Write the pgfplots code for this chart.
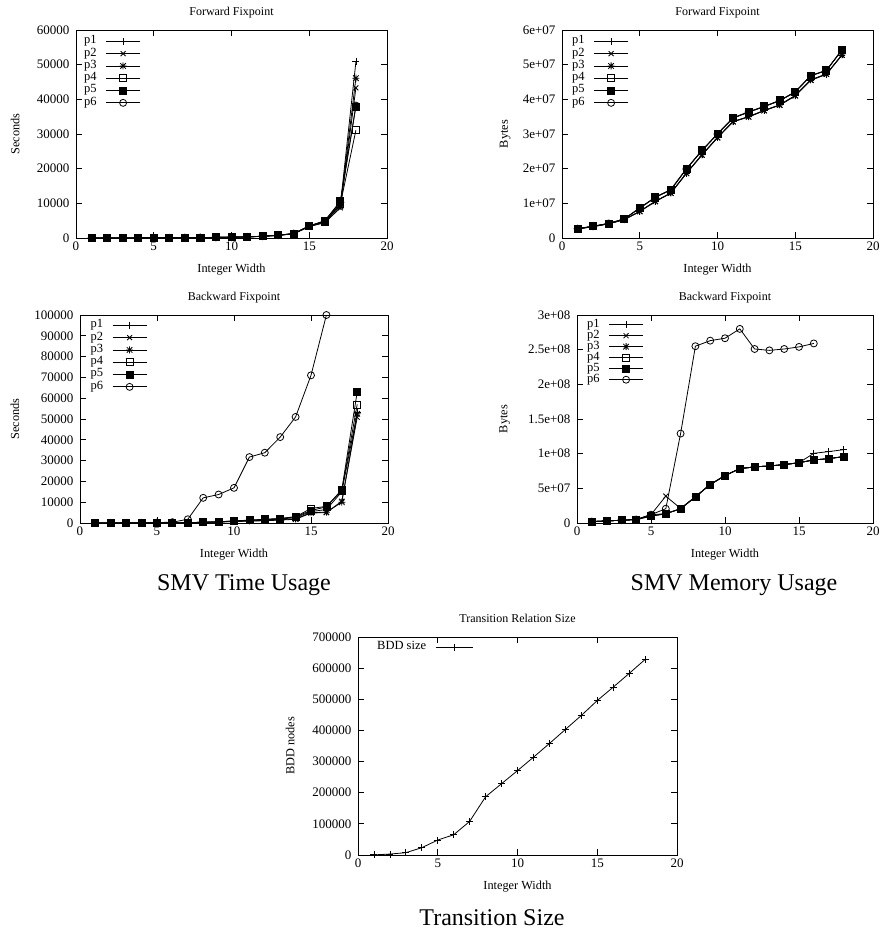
\documentclass[border=0pt]{standalone}
\usepackage{fontspec}
\setmainfont{Liberation Serif}
\usepackage{pgfplots}
\pgfplotsset{compat=1.18}

% gnuplot point type 3: + and x together
\pgfdeclareplotmark{gpstar}{%
  \pgfpathmoveto{\pgfqpoint{-\pgfplotmarksize}{0pt}}\pgfpathlineto{\pgfqpoint{\pgfplotmarksize}{0pt}}%
  \pgfpathmoveto{\pgfqpoint{0pt}{-\pgfplotmarksize}}\pgfpathlineto{\pgfqpoint{0pt}{\pgfplotmarksize}}%
  \pgfpathmoveto{\pgfqpoint{-.8\pgfplotmarksize}{-.8\pgfplotmarksize}}\pgfpathlineto{\pgfqpoint{.8\pgfplotmarksize}{.8\pgfplotmarksize}}%
  \pgfpathmoveto{\pgfqpoint{-.8\pgfplotmarksize}{.8\pgfplotmarksize}}\pgfpathlineto{\pgfqpoint{.8\pgfplotmarksize}{-.8\pgfplotmarksize}}%
  \pgfusepathqstroke}

\pgfplotsset{
  gp/.style={
    scale only axis, anchor=south west,
    xmin=0, xmax=20, xtick={0,5,10,15,20}, ymin=0,
    tick align=inside, tick pos=both, major tick length=6pt,
    axis line style={line width=0.8pt}, every tick/.style={black, line width=0.8pt},
    tick label style={font=\fontsize{13}{15}\selectfont},
    yticklabel style={xshift=-3pt},
    /pgf/number format/assume math mode=true, /pgf/number format/fixed,
    /pgf/number format/1000 sep={}, scaled y ticks=false,
    title style={font=\fontsize{12}{14}\selectfont, anchor=center},
    every axis x label/.style={at={(axis description cs:0.5,-0.154)}, anchor=center, font=\fontsize{12.3}{14}\selectfont},
    xlabel={Integer Width},
    legend plot pos=right, legend cell align=left,
    legend style={at={(0,1)}, anchor=north west, draw=none, fill=none,
      inner sep=0pt, column sep=9pt, row sep=0pt,
      font=\fontsize{12.5}{14}\selectfont,
      nodes={inner sep=0pt, text height=8.5pt, text depth=3.8pt}},
    legend image code/.code={\draw[mark repeat=2,mark phase=2] plot coordinates {(0pt,0pt) (17pt,0pt) (34pt,0pt)};},
    every axis plot/.append style={black, solid, line width=0.8pt, mark size=3.5pt},
  },
  ttl/.style={title style={at={(axis description cs:0.5,#1)}}},
  ylab/.style={every axis y label/.style={at={(axis description cs:#1,0.5)}, rotate=90, anchor=center, font=\fontsize{12.3}{14}\selectfont}},
}

\begin{document}
\begin{tikzpicture}
\useasboundingbox (0pt,0pt) rectangle (880pt,-930pt);

% ---------- Forward fixpoint, time
\begin{axis}[gp, at={(76pt,-238pt)}, width=311pt, height=208pt,
  ymax=60000, ytick={0,10000,...,60000},
  title={Forward Fixpoint}, ttl=1.055, ylabel={Seconds}, ylab=-0.196,
  legend style={xshift=8pt, yshift=-5pt}]
\addplot[mark=+] coordinates {(1,5) (2,10) (3,20) (4,30) (5,50) (6,70) (7,100) (8,140) (9,180) (10,230) (11,330) (12,500) (13,780) (14,1250) (15,3400) (16,4800) (17,9500) (18,50800)};
\addplot[mark=x] coordinates {(1,5) (2,10) (3,20) (4,30) (5,50) (6,70) (7,100) (8,130) (9,170) (10,220) (11,310) (12,480) (13,760) (14,1200) (15,3300) (16,4400) (17,8700) (18,43300)};
\addplot[mark=gpstar] coordinates {(1,5) (2,10) (3,20) (4,30) (5,50) (6,70) (7,100) (8,135) (9,175) (10,225) (11,320) (12,490) (13,770) (14,1230) (15,3350) (16,4600) (17,9200) (18,46100)};
\addplot[mark=square] coordinates {(1,5) (2,10) (3,20) (4,30) (5,50) (6,70) (7,100) (8,140) (9,180) (10,230) (11,330) (12,500) (13,790) (14,1260) (15,3450) (16,4700) (17,9800) (18,31100)};
\addplot[mark=square*] coordinates {(1,5) (2,10) (3,20) (4,30) (5,50) (6,70) (7,100) (8,145) (9,190) (10,240) (11,340) (12,520) (13,800) (14,1300) (15,3500) (16,5000) (17,10600) (18,37900)};
\addplot[mark=o] coordinates {(1,5) (2,10) (3,20) (4,30) (5,50) (6,70) (7,100) (8,145) (9,185) (10,235) (11,335) (12,510) (13,800) (14,1280) (15,3480) (16,4900) (17,10300) (18,38200)};
\legend{p1,p2,p3,p4,p5,p6}
\end{axis}

% ---------- Forward fixpoint, memory
\begin{axis}[gp, at={(562pt,-238pt)}, width=311pt, height=208pt,
  ymax=6e7, ytick={0,1e7,2e7,3e7,4e7,5e7,6e7},
  yticklabels={0,1e+07,2e+07,3e+07,4e+07,5e+07,6e+07},
  title={Forward Fixpoint}, ttl=1.055, ylabel={Bytes}, ylab=-0.183,
  legend style={xshift=10pt, yshift=-5pt}]
\addplot[mark=+] coordinates {(1,2.6e6) (2,3.3e6) (3,4.1e6) (4,5.3e6) (5,7.7e6) (6,10.6e6) (7,13.0e6) (8,18.7e6) (9,24.0e6) (10,29.0e6) (11,33.6e6) (12,35.0e6) (13,36.8e6) (14,38.4e6) (15,41.1e6) (16,45.6e6) (17,47.3e6) (18,52.8e6)};
\addplot[mark=x] coordinates {(1,2.6e6) (2,3.3e6) (3,4.1e6) (4,5.3e6) (5,7.6e6) (6,10.5e6) (7,12.9e6) (8,18.6e6) (9,23.9e6) (10,28.9e6) (11,33.5e6) (12,34.9e6) (13,36.7e6) (14,38.3e6) (15,41.0e6) (16,45.5e6) (17,47.2e6) (18,52.7e6)};
\addplot[mark=gpstar] coordinates {(1,2.6e6) (2,3.3e6) (3,4.1e6) (4,5.3e6) (5,7.7e6) (6,10.6e6) (7,13.0e6) (8,18.7e6) (9,24.0e6) (10,29.0e6) (11,33.6e6) (12,35.0e6) (13,36.8e6) (14,38.4e6) (15,41.1e6) (16,45.6e6) (17,47.3e6) (18,52.8e6)};
\addplot[mark=square] coordinates {(1,2.7e6) (2,3.4e6) (3,4.2e6) (4,5.5e6) (5,8.6e6) (6,11.7e6) (7,13.9e6) (8,19.9e6) (9,25.2e6) (10,30.0e6) (11,34.6e6) (12,36.3e6) (13,37.9e6) (14,39.6e6) (15,42.1e6) (16,46.8e6) (17,48.3e6) (18,54.2e6)};
\addplot[mark=square*] coordinates {(1,2.7e6) (2,3.4e6) (3,4.2e6) (4,5.5e6) (5,8.7e6) (6,11.8e6) (7,14.0e6) (8,20.0e6) (9,25.3e6) (10,30.1e6) (11,34.7e6) (12,36.4e6) (13,38.0e6) (14,39.7e6) (15,42.2e6) (16,46.9e6) (17,48.4e6) (18,54.3e6)};
\addplot[mark=o] coordinates {(1,2.7e6) (2,3.4e6) (3,4.2e6) (4,5.5e6) (5,8.6e6) (6,11.7e6) (7,13.9e6) (8,19.9e6) (9,25.2e6) (10,30.0e6) (11,34.6e6) (12,36.3e6) (13,37.9e6) (14,39.6e6) (15,42.1e6) (16,46.8e6) (17,48.3e6) (18,54.2e6)};
\legend{p1,p2,p3,p4,p5,p6}
\end{axis}

% ---------- Backward fixpoint, time
\begin{axis}[gp, at={(80pt,-523pt)}, width=308pt, height=208pt,
  ymax=100000, ytick={0,10000,...,100000},
  title={Backward Fixpoint}, ttl=1.055, ylabel={Seconds}, ylab=-0.211,
  legend style={xshift=10.5pt, yshift=-4pt}]
\addplot[mark=+] coordinates {(1,5) (2,10) (3,20) (4,40) (5,70) (6,120) (7,200) (8,350) (9,550) (10,900) (11,1200) (12,1500) (13,1900) (14,2600) (15,5500) (16,6500) (17,15000) (18,53000)};
\addplot[mark=x] coordinates {(1,5) (2,10) (3,20) (4,40) (5,70) (6,110) (7,180) (8,300) (9,450) (10,700) (11,900) (12,1100) (13,1400) (14,1800) (15,4800) (16,5000) (17,10500) (18,50800)};
\addplot[mark=gpstar] coordinates {(1,5) (2,10) (3,20) (4,40) (5,70) (6,115) (7,190) (8,320) (9,500) (10,800) (11,1000) (12,1300) (13,1600) (14,2000) (15,5000) (16,5200) (17,10000) (18,52500)};
\addplot[mark=square] coordinates {(1,5) (2,10) (3,20) (4,40) (5,70) (6,120) (7,200) (8,360) (9,580) (10,950) (11,1300) (12,1700) (13,2100) (14,3000) (15,7000) (16,8000) (17,15500) (18,57000)};
\addplot[mark=square*] coordinates {(1,5) (2,10) (3,20) (4,40) (5,70) (6,120) (7,200) (8,360) (9,600) (10,1000) (11,1400) (12,1800) (13,2200) (14,3000) (15,6000) (16,7800) (17,16000) (18,63000)};
\addplot[mark=o] coordinates {(1,20) (2,40) (3,60) (4,100) (5,200) (6,400) (7,1800) (8,12100) (9,13700) (10,16900) (11,31700) (12,33800) (13,41300) (14,51000) (15,71000) (16,100000)};
\legend{p1,p2,p3,p4,p5,p6}
\end{axis}

% ---------- Backward fixpoint, memory
\begin{axis}[gp, at={(577pt,-523pt)}, width=296pt, height=208pt,
  ymax=3e8, ytick={0,5e7,1e8,1.5e8,2e8,2.5e8,3e8},
  yticklabels={0,5e+07,1e+08,1.5e+08,2e+08,2.5e+08,3e+08},
  title={Backward Fixpoint}, ttl=1.055, ylabel={Bytes}, ylab=-0.244,
  legend style={xshift=10pt, yshift=-4pt, nodes={text height=7.8pt, text depth=3.2pt}}]
\addplot[mark=+] coordinates {(1,2e6) (2,3e6) (3,4e6) (4,5e6) (5,12e6) (6,13.4e6) (7,20.6e6) (8,37.8e6) (9,55.5e6) (10,68.4e6) (11,78.5e6) (12,80.9e6) (13,82.3e6) (14,84.2e6) (15,87e6) (16,100.5e6) (17,103e6) (18,105.7e6)};
\addplot[mark=x] coordinates {(1,2e6) (2,3e6) (3,4e6) (4,5e6) (5,12e6) (6,38.8e6) (7,21e6) (8,37.8e6) (9,55.5e6) (10,68.4e6) (11,78.5e6) (12,80.9e6) (13,82.3e6) (14,84.2e6) (15,87e6) (16,91e6) (17,92.8e6) (18,95.7e6)};
\addplot[mark=gpstar] coordinates {(1,2e6) (2,3e6) (3,4e6) (4,5e6) (5,10e6) (6,13.4e6) (7,20.6e6) (8,37.8e6) (9,55.5e6) (10,68.4e6) (11,78.5e6) (12,80.9e6) (13,82.3e6) (14,84.2e6) (15,87e6) (16,91e6) (17,92.8e6) (18,95.7e6)};
\addplot[mark=square] coordinates {(1,2e6) (2,3e6) (3,4e6) (4,5e6) (5,10e6) (6,13.4e6) (7,20.6e6) (8,37.8e6) (9,55.5e6) (10,68.4e6) (11,78.5e6) (12,80.9e6) (13,82.3e6) (14,84.2e6) (15,87e6) (16,91e6) (17,92.8e6) (18,95.7e6)};
\addplot[mark=square*] coordinates {(1,2e6) (2,3e6) (3,4e6) (4,5e6) (5,10e6) (6,13.4e6) (7,20.6e6) (8,37.8e6) (9,55.5e6) (10,68.4e6) (11,78.5e6) (12,80.9e6) (13,82.3e6) (14,84.2e6) (15,87e6) (16,91e6) (17,92.8e6) (18,95.7e6)};
\addplot[mark=o] coordinates {(1,2e6) (2,3e6) (3,4e6) (4,5e6) (5,12e6) (6,20.6e6) (7,129e6) (8,255e6) (9,263e6) (10,266.5e6) (11,280e6) (12,251e6) (13,249e6) (14,251e6) (15,254e6) (16,259e6)};
\legend{p1,p2,p3,p4,p5,p6}
\end{axis}

% ---------- Transition relation size
\begin{axis}[gp, at={(358pt,-855pt)}, width=319pt, height=218pt,
  ymax=700000, ytick={0,100000,...,700000},
  title={Transition Relation Size}, ttl=1.060, ylabel={BDD nodes}, ylab=-0.213,
  every axis x label/.style={at={(axis description cs:0.5,-0.147)}, anchor=center, font=\fontsize{12.3}{14}\selectfont},
  legend style={xshift=19pt, yshift=-4pt},
  legend image code/.code={\draw[mark repeat=2,mark phase=2] plot coordinates {(0pt,0pt) (18.5pt,0pt) (37pt,0pt)};}]
\addplot[mark=+] coordinates {(1,500) (2,3000) (3,7500) (4,23500) (5,48000) (6,65000) (7,108000) (8,187000) (9,229000) (10,271000) (11,314000) (12,358000) (13,403000) (14,448000) (15,496000) (16,539000) (17,583000) (18,628000)};
\legend{BDD size}
\end{axis}

\node[font=\fontsize{24}{28}\selectfont] at (244pt,-585pt) {SMV Time Usage};
\node[font=\fontsize{24}{28}\selectfont] at (734pt,-585pt) {SMV Memory Usage};
\node[font=\fontsize{24}{28}\selectfont] at (492pt,-918pt) {Transition Size};
\end{tikzpicture}
\end{document}
